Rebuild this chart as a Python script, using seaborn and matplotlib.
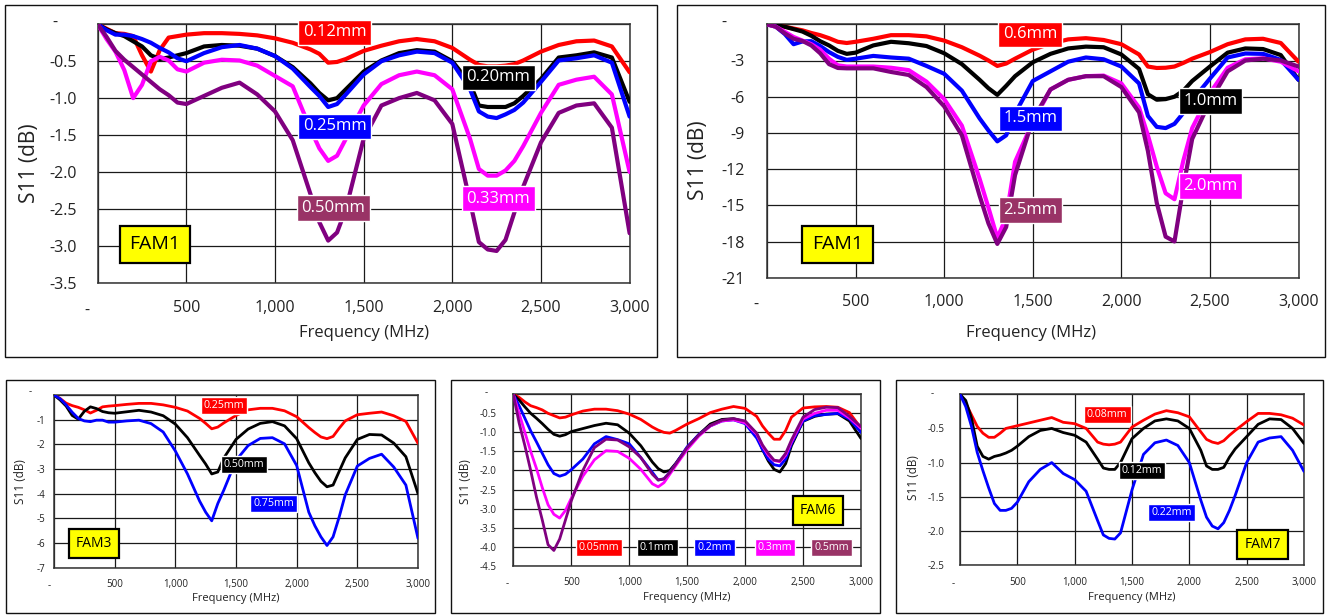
import matplotlib
matplotlib.use("Agg")
import numpy as np
import pandas as pd
import matplotlib.pyplot as plt
import seaborn as sns
from matplotlib.patches import Rectangle

# ---------------------------------------------------------------- data
FREQ = [0, 50, 100, 150, 200, 250, 300, 350, 400, 450, 500,
        600, 700, 800, 900, 1000, 1100, 1200,
        1250, 1300, 1350, 1400,
        1500, 1600, 1700, 1800, 1900, 2000, 2100,
        2150, 2200, 2250, 2300, 2350, 2400,
        2500, 2600, 2700, 2800, 2900, 3000]

# FAM1, thin layers (dB)
fam1a_012 = [0, -0.06, -0.12, -0.13, -0.16, -0.42, -0.64, -0.35, -0.18, -0.16, -0.14,
             -0.12, -0.12, -0.13, -0.15, -0.19, -0.25, -0.34,
             -0.40, -0.52, -0.51, -0.47,
             -0.36, -0.29, -0.23, -0.20, -0.23, -0.32, -0.48,
             -0.55, -0.57, -0.57, -0.56, -0.54, -0.49,
             -0.37, -0.28, -0.23, -0.22, -0.30, -0.65]
fam1a_020 = [0, -0.07, -0.12, -0.16, -0.23, -0.30, -0.42, -0.47, -0.45, -0.42, -0.39,
             -0.30, -0.28, -0.29, -0.33, -0.43, -0.58, -0.80,
             -0.93, -1.03, -1.00, -0.88,
             -0.64, -0.49, -0.39, -0.35, -0.37, -0.50, -0.80,
             -1.10, -1.12, -1.12, -1.12, -1.07, -0.97,
             -0.74, -0.45, -0.42, -0.38, -0.45, -1.05]
fam1a_025 = [0, -0.08, -0.14, -0.14, -0.16, -0.20, -0.25, -0.32, -0.38, -0.46, -0.50,
             -0.39, -0.31, -0.28, -0.33, -0.43, -0.60, -0.85,
             -0.97, -1.12, -1.08, -0.95,
             -0.68, -0.50, -0.42, -0.37, -0.39, -0.52, -0.88,
             -1.18, -1.25, -1.27, -1.22, -1.16, -1.06,
             -0.78, -0.49, -0.46, -0.42, -0.52, -1.25]
fam1a_033 = [0, -0.20, -0.37, -0.62, -1.00, -0.82, -0.50, -0.44, -0.49, -0.61, -0.64,
             -0.52, -0.48, -0.49, -0.56, -0.70, -0.84, -1.42,
             -1.68, -1.85, -1.78, -1.55,
             -1.10, -0.81, -0.69, -0.64, -0.69, -0.88, -1.55,
             -1.96, -2.05, -2.05, -1.98, -1.85, -1.65,
             -1.20, -0.82, -0.75, -0.71, -0.95, -2.00]
fam1a_050 = [0, -0.17, -0.36, -0.48, -0.58, -0.68, -0.78, -0.88, -0.96, -1.06, -1.08,
             -0.97, -0.86, -0.79, -0.95, -1.18, -1.57, -2.30,
             -2.68, -2.93, -2.82, -2.50,
             -1.55, -1.10, -1.00, -0.93, -1.03, -1.35, -2.40,
             -2.95, -3.05, -3.07, -2.92, -2.55, -2.20,
             -1.60, -1.20, -1.10, -1.07, -1.40, -2.83]

# FAM1, thick layers (dB)
fam1b_06 = [0, -0.05, -0.20, -0.35, -0.50, -0.72, -0.90, -1.15, -1.45, -1.55, -1.45,
            -1.20, -0.90, -0.90, -1.00, -1.35, -1.90, -2.60,
            -3.00, -3.45, -3.25, -2.85,
            -2.10, -1.60, -1.25, -1.15, -1.30, -1.65, -2.50,
            -3.50, -3.62, -3.60, -3.50, -3.20, -2.85,
            -2.30, -1.65, -1.25, -1.20, -1.55, -3.10]
fam1b_10 = [0, -0.05, -0.20, -0.40, -0.60, -0.95, -1.40, -1.75, -2.20, -2.45, -2.35,
            -1.75, -1.45, -1.57, -1.80, -2.40, -3.30, -4.60,
            -5.30, -5.85, -5.10, -4.30,
            -3.15, -2.45, -2.00, -1.85, -1.90, -2.50, -3.70,
            -5.80, -6.25, -6.20, -6.00, -5.50, -4.70,
            -3.50, -2.35, -2.00, -2.05, -2.55, -4.60]
fam1b_15 = [0, -0.20, -0.80, -1.65, -1.42, -1.40, -1.80, -2.30, -2.70, -2.95, -2.85,
            -2.62, -2.75, -2.85, -3.45, -4.10, -5.50, -7.80,
            -8.80, -9.70, -9.20, -7.40,
            -4.70, -3.90, -3.10, -2.75, -2.90, -3.50, -4.90,
            -7.60, -8.50, -8.60, -8.25, -7.35, -6.30,
            -4.50, -2.75, -2.42, -2.45, -2.95, -4.60]
fam1b_20 = [0, -0.20, -0.62, -1.05, -1.35, -1.65, -2.10, -2.85, -3.40, -3.50, -3.50,
            -3.50, -3.60, -3.80, -4.75, -6.20, -8.40, -12.8,
            -15.2, -17.7, -16.0, -11.4,
            -8.10, -5.40, -4.60, -4.30, -4.25, -4.90, -6.90,
            -9.20, -11.8, -14.0, -14.5, -11.3, -8.60,
            -5.70, -3.60, -2.90, -2.82, -3.10, -3.90]
fam1b_25 = [0, -0.20, -0.75, -1.20, -1.38, -1.75, -2.40, -3.30, -3.62, -3.65, -3.65,
            -3.65, -3.95, -4.20, -5.20, -6.80, -9.20, -14.2,
            -16.5, -18.2, -16.8, -12.5,
            -7.90, -5.40, -4.60, -4.30, -4.30, -5.20, -7.30,
            -10.5, -14.8, -17.6, -18.0, -13.5, -9.50,
            -6.40, -3.90, -3.00, -2.85, -3.00, -3.50]

# FAM3 (dB)
fam3_025 = [0, -0.14, -0.33, -0.43, -0.50, -0.60, -0.73, -0.62, -0.48, -0.45, -0.43,
            -0.38, -0.34, -0.34, -0.40, -0.50, -0.65, -0.95,
            -1.15, -1.37, -1.30, -1.13,
            -0.83, -0.60, -0.54, -0.54, -0.64, -0.88, -1.32,
            -1.52, -1.70, -1.77, -1.68, -1.35, -1.05,
            -0.80, -0.74, -0.69, -0.84, -1.07, -1.96]
fam3_050 = [0, -0.20, -0.45, -0.83, -0.98, -0.66, -0.48, -0.55, -0.67, -0.72, -0.74,
            -0.68, -0.62, -0.69, -0.84, -1.18, -1.73, -2.45,
            -2.80, -3.20, -3.12, -2.55,
            -1.80, -1.38, -1.15, -1.08, -1.25, -1.77, -2.75,
            -3.15, -3.50, -3.72, -3.65, -3.10, -2.55,
            -1.80, -1.60, -1.62, -1.95, -2.50, -4.00]
fam3_075 = [0, -0.15, -0.40, -0.70, -0.95, -1.05, -1.08, -1.02, -1.02, -1.10, -1.10,
            -1.05, -1.02, -1.16, -1.50, -2.27, -3.20, -4.30,
            -4.75, -5.10, -4.40, -3.85,
            -2.65, -2.05, -1.76, -1.73, -1.98, -2.86, -4.75,
            -5.30, -5.75, -6.10, -5.75, -4.95, -4.05,
            -2.88, -2.57, -2.40, -2.92, -3.65, -5.81]

# FAM6 (dB)
fam6_005 = [0, -0.08, -0.20, -0.30, -0.35, -0.41, -0.50, -0.56, -0.62, -0.60, -0.54,
            -0.44, -0.39, -0.39, -0.43, -0.52, -0.66, -0.86,
            -0.94, -1.00, -1.02, -0.95,
            -0.78, -0.64, -0.48, -0.39, -0.32, -0.37, -0.58,
            -0.83, -1.02, -1.18, -1.18, -0.95, -0.60,
            -0.36, -0.33, -0.32, -0.34, -0.48, -0.89]
fam6_01 = [0, -0.15, -0.33, -0.50, -0.63, -0.77, -0.92, -1.05, -1.10, -1.06, -0.98,
           -0.90, -0.82, -0.76, -0.80, -1.02, -1.35, -1.78,
           -1.95, -2.04, -2.00, -1.82,
           -1.40, -1.06, -0.78, -0.66, -0.64, -0.72, -1.05,
           -1.45, -1.75, -1.97, -2.04, -1.82, -1.35,
           -0.71, -0.58, -0.52, -0.51, -0.70, -1.16]
fam6_02 = [0, -0.30, -0.63, -0.96, -1.25, -1.55, -1.85, -2.08, -2.15, -2.10, -1.98,
           -1.70, -1.30, -1.11, -1.19, -1.30, -1.66, -2.05,
           -2.25, -2.22, -2.05, -1.84,
           -1.38, -1.06, -0.83, -0.70, -0.67, -0.77, -1.15,
           -1.45, -1.70, -1.85, -1.88, -1.70, -1.30,
           -0.70, -0.56, -0.53, -0.50, -0.65, -1.00]
fam6_03 = [0, -0.50, -1.00, -1.50, -1.95, -2.45, -2.90, -3.15, -3.25, -3.05, -2.73,
           -2.15, -1.72, -1.48, -1.50, -1.68, -1.97, -2.35,
           -2.43, -2.32, -2.10, -1.88,
           -1.45, -1.10, -0.83, -0.70, -0.67, -0.75, -1.05,
           -1.36, -1.60, -1.74, -1.77, -1.60, -1.25,
           -0.65, -0.50, -0.42, -0.42, -0.62, -0.89]
fam6_05 = [0, -0.75, -1.35, -2.00, -2.70, -3.30, -3.95, -4.10, -3.80, -3.30, -2.80,
           -2.00, -1.40, -1.18, -1.20, -1.38, -1.66, -2.10,
           -2.25, -2.22, -2.05, -1.84,
           -1.40, -1.07, -0.82, -0.68, -0.64, -0.70, -1.02,
           -1.33, -1.55, -1.73, -1.75, -1.55, -1.20,
           -0.60, -0.40, -0.34, -0.35, -0.58, -0.85]

# FAM7 (dB)
fam7_008 = [0, -0.13, -0.30, -0.47, -0.57, -0.63, -0.63, -0.57, -0.50, -0.48, -0.46,
            -0.42, -0.38, -0.34, -0.41, -0.43, -0.50, -0.70,
            -0.73, -0.74, -0.73, -0.70,
            -0.48, -0.38, -0.29, -0.24, -0.27, -0.33, -0.55,
            -0.66, -0.70, -0.72, -0.68, -0.60, -0.53,
            -0.40, -0.28, -0.28, -0.30, -0.35, -0.45]
fam7_012 = [0, -0.09, -0.35, -0.76, -0.91, -0.95, -0.91, -0.89, -0.86, -0.82, -0.76,
            -0.62, -0.53, -0.50, -0.56, -0.60, -0.70, -0.95,
            -1.08, -1.10, -1.10, -1.00,
            -0.65, -0.50, -0.39, -0.36, -0.39, -0.50, -0.82,
            -1.05, -1.10, -1.10, -1.07, -0.92, -0.80,
            -0.62, -0.44, -0.36, -0.37, -0.50, -0.72]
fam7_022 = [0, -0.18, -0.47, -0.85, -1.12, -1.37, -1.60, -1.70, -1.70, -1.67, -1.58,
            -1.28, -1.10, -1.00, -1.16, -1.25, -1.42, -1.85,
            -2.06, -2.11, -2.12, -2.03,
            -1.40, -0.88, -0.71, -0.67, -0.75, -1.00, -1.55,
            -1.80, -1.93, -1.97, -1.88, -1.70, -1.48,
            -1.00, -0.70, -0.64, -0.62, -0.82, -1.13]

RED, BLACK, BLUE, MAGENTA, PURPLE = "#FF0000", "#000000", "#0000FF", "#FF00FF", "#800080"
PLUM = "#993366"
YELLOW = "#FFFF00"

# ---------------------------------------------------------------- panels
# geometry in pixels: axes box (x0, y0, x1, y1) measured from the top-left
panels = [
    dict(series=[("0.12mm", fam1a_012, RED, RED, (1337, -0.11)),
                 ("0.20mm", fam1a_020, BLACK, BLACK, (2260, -0.72)),
                 ("0.25mm", fam1a_025, BLUE, BLUE, (1337, -1.38)),
                 ("0.33mm", fam1a_033, MAGENTA, MAGENTA, (2260, -2.36)),
                 ("0.50mm", fam1a_050, PURPLE, PLUM, (1330, -2.49))],
         fam=("FAM1", (323, -2.98)),
         box=(97.7, 24.3, 629.6, 282.7), frame=(5, 5, 657, 357),
         yticks=[0, -0.5, -1.0, -1.5, -2.0, -2.5, -3.0, -3.5], yfmt="{:.1f}",
         tick_fs=11.5, lab_fs=12, ylab_fs=15, txt_fs=12, fam_fs=14, lw=3.0,
         xpad=12.5, ypad=15, xlab=(0.5, -0.195), ylab=(-0.129, 0.463),
         zx=(-10.7, -28.3), zy=(-42.7, 1)),
    dict(series=[("0.6mm", fam1b_06, RED, RED, (1486, -0.83)),
                 ("1.0mm", fam1b_10, BLACK, BLACK, (2503, -6.36)),
                 ("1.5mm", fam1b_15, BLUE, BLUE, (1486, -7.79)),
                 ("2.0mm", fam1b_20, MAGENTA, MAGENTA, (2503, -13.4)),
                 ("2.5mm", fam1b_25, PURPLE, PLUM, (1486, -15.4))],
         fam=("FAM1", (399, -18.24)),
         box=(767, 24.3, 1298.5, 277.7), frame=(677, 5, 1325, 357),
         yticks=[0, -3, -6, -9, -12, -15, -18, -21], yfmt="{:.0f}",
         tick_fs=11.5, lab_fs=12, ylab_fs=15, txt_fs=12, fam_fs=14, lw=3.0,
         xpad=12, ypad=16, xlab=(0.497, -0.219), ylab=(-0.129, 0.464),
         zx=(-11, -27.3), zy=(-43, 1)),
    dict(series=[("0.25mm", fam3_025, RED, RED, (1400, -0.41)),
                 ("0.50mm", fam3_050, BLACK, BLACK, (1567, -2.81)),
                 ("0.75mm", fam3_075, BLUE, BLUE, (1812, -4.39))],
         fam=("FAM3", (329, -6.01)),
         box=(54, 395, 418, 567.7), frame=(6, 380, 435, 613),
         yticks=[0, -1, -2, -3, -4, -5, -6, -7], yfmt="{:.0f}",
         tick_fs=7, lab_fs=8, ylab_fs=8.5, txt_fs=7.7, fam_fs=10, lw=2.0,
         xpad=8, ypad=6.5, xlab=(0.499, -0.177), ylab=(-0.091, 0.496),
         zx=(-5, -18.3), zy=(-24, 3)),
    dict(series=[("0.05mm", fam6_005, RED, RED, (739, -4.02)),
                 ("0.1mm", fam6_01, BLACK, BLACK, (1242, -4.02)),
                 ("0.2mm", fam6_02, BLUE, BLUE, (1734, -4.02)),
                 ("0.3mm", fam6_03, MAGENTA, MAGENTA, (2258, -4.02)),
                 ("0.5mm", fam6_05, PURPLE, PLUM, (2746, -4.02))],
         fam=("FAM6", (2626, -3.04)),
         box=(513.3, 394.3, 861, 565.7), frame=(451, 380, 880, 613),
         yticks=[0, -0.5, -1.0, -1.5, -2.0, -2.5, -3.0, -3.5, -4.0, -4.5], yfmt="{:.1f}",
         tick_fs=7, lab_fs=8, ylab_fs=8.5, txt_fs=7.7, fam_fs=10, lw=2.0,
         xpad=8, ypad=12, xlab=(0.499, -0.187), ylab=(-0.137, 0.49),
         zx=(-6.6, -18.3), zy=(-27.6, 2)),
    dict(series=[("0.08mm", fam7_008, RED, RED, (1284, -0.29)),
                 ("0.12mm", fam7_012, BLACK, BLACK, (1588, -1.12)),
                 ("0.22mm", fam7_022, BLUE, BLUE, (1844, -1.73))],
         fam=("FAM7", (2637, -2.20)),
         box=(960, 394.3, 1304, 565), frame=(896, 380, 1323, 613),
         yticks=[0, -0.5, -1.0, -1.5, -2.0, -2.5], yfmt="{:.1f}",
         tick_fs=7, lab_fs=8, ylab_fs=8.5, txt_fs=7.7, fam_fs=10, lw=2.0,
         xpad=8.5, ypad=11, xlab=(0.499, -0.19), ylab=(-0.136, 0.51),
         zx=(-6.7, -19), zy=(-28.3, 1)),
]

XTICKS = [0, 500, 1000, 1500, 2000, 2500, 3000]

# ---------------------------------------------------------------- figure
sns.set_theme(style="white")
plt.rcParams["font.family"] = ["Open Sans", "DejaVu Sans"]

W, H = 1327, 615
fig = plt.figure(figsize=(W / 100, H / 100), dpi=100)
fig.patch.set_facecolor("white")
PT = 0.72  # points per pixel at 100 dpi

for p in panels:
    x0, y0, x1, y1 = p["box"]
    ax = fig.add_axes([x0 / W, 1 - y1 / H, (x1 - x0) / W, (y1 - y0) / H])

    fx0, fy0, fx1, fy1 = p["frame"]
    fig.patches.append(Rectangle((fx0 / W, 1 - fy1 / H), (fx1 - fx0) / W, (fy1 - fy0) / H,
                                 transform=fig.transFigure, fill=False,
                                 ec="#111111", lw=1.0, zorder=0))

    names = [s[0] for s in p["series"]]
    df = pd.concat([pd.DataFrame({"Frequency (MHz)": FREQ, "S11 (dB)": s[1], "series": s[0]})
                    for s in p["series"]], ignore_index=True)
    sns.lineplot(data=df, x="Frequency (MHz)", y="S11 (dB)", hue="series",
                 hue_order=names, palette=[s[2] for s in p["series"]],
                 estimator=None, sort=False, legend=False, lw=p["lw"], ax=ax, zorder=3)
    for ln in ax.lines:
        ln.set_solid_joinstyle("round")
        ln.set_solid_capstyle("round")

    yt = p["yticks"]
    ax.set_xlim(0, 3000)
    ax.set_ylim(yt[-1], 0)
    ax.set_xticks(XTICKS)
    ax.set_xticklabels([""] + [f"{v:,}" for v in XTICKS[1:]])
    ax.set_yticks(yt)
    ax.set_yticklabels([""] + [p["yfmt"].format(v) for v in yt[1:]])
    ax.tick_params(axis="both", length=0, labelsize=p["tick_fs"], colors="#222222")
    ax.tick_params(axis="x", pad=p["xpad"])
    ax.tick_params(axis="y", pad=p["ypad"])
    ax.set_axisbelow(True)
    ax.grid(True, color="#1a1a1a", lw=0.9)
    for sp in ax.spines.values():
        sp.set_visible(True)
        sp.set_color("#333333")
        sp.set_linewidth(1.1)

    # zero values are printed as a dash
    ax.annotate("-", xy=(0, 0), xycoords=("data", "axes fraction"),
                xytext=(p["zx"][0] * PT, p["zx"][1] * PT), textcoords="offset points",
                ha="center", va="center", fontsize=p["tick_fs"], color="#222222")
    ax.annotate("-", xy=(0, 0), xycoords=("axes fraction", "data"),
                xytext=(p["zy"][0] * PT, p["zy"][1] * PT), textcoords="offset points",
                ha="center", va="center", fontsize=p["tick_fs"], color="#222222")

    ax.set_xlabel("Frequency (MHz)", fontsize=p["lab_fs"], color="#222222")
    ax.set_ylabel("S11 (dB)", fontsize=p["ylab_fs"], color="#222222")
    ax.xaxis.label.set_va("center")
    ax.yaxis.label.set_va("center")
    ax.xaxis.set_label_coords(*p["xlab"])
    ax.yaxis.set_label_coords(*p["ylab"])

    for name, _, _, bg, (tx, ty) in p["series"]:
        ax.text(tx, ty, name, ha="center", va="center", color="white",
                fontsize=p["txt_fs"], zorder=6,
                bbox=dict(boxstyle="square,pad=0.28", fc=bg, ec="white", lw=1.0))

    fam, (fxp, fyp) = p["fam"]
    ax.text(fxp, fyp, fam, ha="center", va="center", color="black",
            fontsize=p["fam_fs"], zorder=6,
            bbox=dict(boxstyle="square,pad=0.5", fc=YELLOW, ec="black", lw=1.6))

fig.savefig("out.png", dpi=100, facecolor="white")
